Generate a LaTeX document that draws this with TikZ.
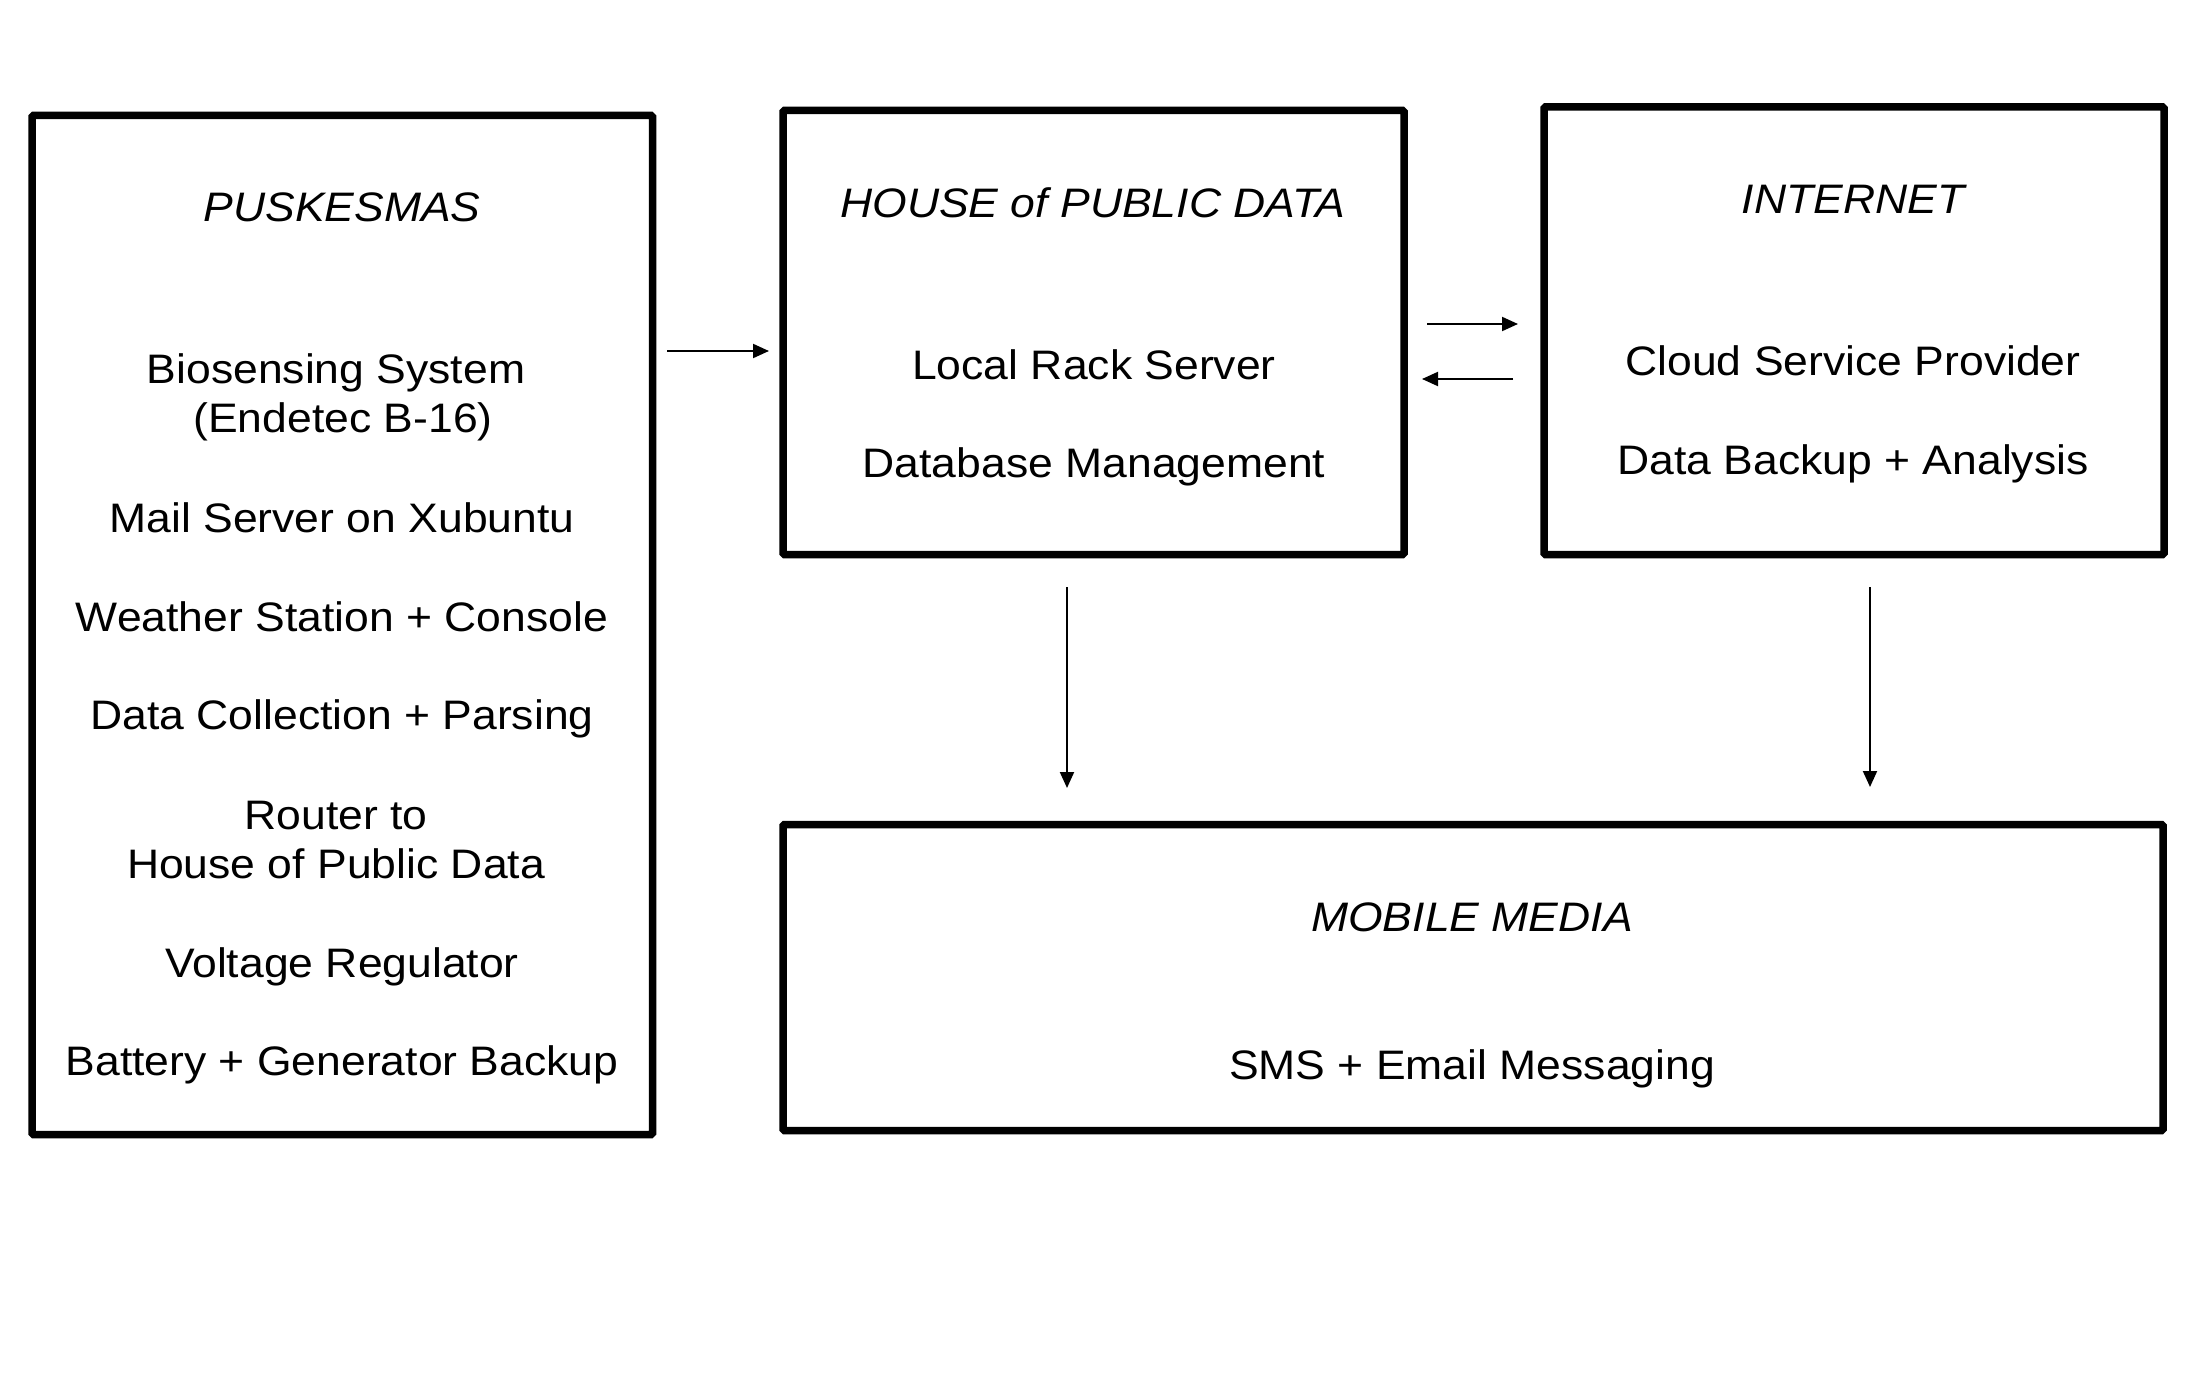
\documentclass[tikz,border=0pt]{standalone}
\usepackage{fontspec}
\setmainfont{Liberation Sans}[FakeStretch=1.08]
\usetikzlibrary{arrows.meta}
\begin{document}
\begin{tikzpicture}[x=1pt,y=-1pt,
  box/.style={draw=black,line width=7.5pt,rounded corners=1.5pt,inner sep=0pt,outer sep=0pt},
  txt/.style={anchor=base,inner sep=0pt,font=\fontsize{41.2}{49}\selectfont},
  ttl/.style={txt,font=\fontsize{41.2}{49}\selectfont\itshape},
  arr/.style={line width=2pt,-{Triangle[length=16pt,width=14pt]}}]
\useasboundingbox[fill=white] (0,0) rectangle (2196,1380);
% boxes
\node[box,minimum width=620.5pt,minimum height=1019pt] (pusk) at (342.25,625) {};
\node[box,minimum width=621pt,minimum height=444pt] (house) at (1093.5,332.5) {};
\node[box,minimum width=620pt,minimum height=447.5pt] (inet) at (1854,330.75) {};
\node[box,minimum width=1380pt,minimum height=306pt] (mobile) at (1473,977.5) {};
% PUSKESMAS texts
\node[ttl] (t1) at (342,222) {PUSKESMAS};
\node[txt] (p1) at (336,383) {Biosensing System};
\node[txt] (p1b) at (343,432) {(Endetec B-16)};
\node[txt] (p2) at (342,532) {Mail Server on Xubuntu};
\node[txt] (p3) at (342,631) {Weather Station + Console};
\node[txt] (p4) at (342,729) {Data Collection + Parsing};
\node[txt] (p5) at (336,829) {Router to};
\node[txt] (p5b) at (336,878) {House of Public Data};
\node[txt] (p6) at (342,977) {Voltage Regulator};
\node[txt] (p7) at (342,1075) {Battery + Generator Backup};
% HOUSE texts
\node[ttl] (t2) at (1093,218) {HOUSE of PUBLIC DATA};
\node[txt] (h1) at (1094,379) {Local Rack Server};
\node[txt] (h2) at (1094,477) {Database Management};
% INTERNET texts
\node[ttl] (t3) at (1853,214) {INTERNET};
\node[txt] (i1) at (1853,375) {Cloud Service Provider};
\node[txt] (i2) at (1853,474) {Data Backup + Analysis};
% MOBILE texts
\node[ttl] (t4) at (1472,931) {MOBILE MEDIA};
\node[txt] (m1) at (1472,1079) {SMS + Email Messaging};
% arrow end points
\coordinate (a1s) at (667,351);
\coordinate (a1e) at (769,351);
\coordinate (a2s) at (1427,324);
\coordinate (a2e) at (1518,324);
\coordinate (a3s) at (1513,379);
\coordinate (a3e) at (1422,379);
\coordinate (a4s) at (1067,587);
\coordinate (a4e) at (1067,788);
\coordinate (a5s) at (1870,587);
\coordinate (a5e) at (1870,787);
\draw[arr] (a1s) -- (a1e);
\draw[arr] (a2s) -- (a2e);
\draw[arr] (a3s) -- (a3e);
\draw[arr] (a4s) -- (a4e);
\draw[arr] (a5s) -- (a5e);
\end{tikzpicture}
\end{document}
